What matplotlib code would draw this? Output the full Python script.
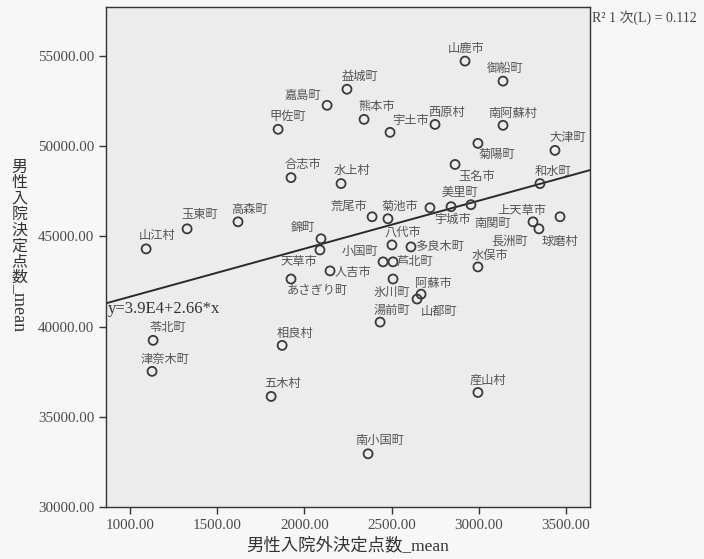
import numpy as np
import matplotlib
matplotlib.use("Agg")
import matplotlib.pyplot as plt

plt.rcParams['font.family'] = ['Liberation Serif', 'Noto Sans CJK JP', 'DejaVu Sans']

# municipality names and mean points (outpatient, inpatient)
names = ['山鹿市', '御船町', '益城町', '嘉島町', '熊本市', '南阿蘇村', '西原村', '甲佐町',
         '宇土市', '菊陽町', '大津町', '玉名市', '合志市', '水上村', '和水町', '南関町',
         '美里町', '宇城市', '荒尾市', '菊池市', '高森町', '玉東町', '上天草市', '長洲町',
         '球磨村', '錦町', '天草市', '山江村', '八代市', '多良木町', '小国町', '芦北町',
         '水俣市', '人吉市', 'あさぎり町', '氷川町', '阿蘇市', '山都町', '湯前町', '苓北町',
         '相良村', '津奈木町', '五木村', '産山村', '南小国町']
outpatient = [2921, 3139, 2244, 2130, 2342, 3139, 2749, 1849,
              2491, 2995, 3437, 2864, 1923, 2210, 3351, 2955,
              2841, 2720, 2388, 2479, 1619, 1327, 3311, 3345,
              3466, 2095, 2089, 1092, 2502, 2611, 2451, 2508,
              2995, 2147, 1923, 2508, 2669, 2646, 2434, 1132,
              1872, 1126, 1809, 2995, 2365]
inpatient = [54720, 53610, 53160, 52270, 51490, 51160, 51210, 50940,
             50770, 50160, 49770, 48990, 48260, 47930, 47930, 46760,
             46650, 46590, 46090, 45980, 45810, 45420, 45810, 45420,
             46090, 44870, 44250, 44310, 44530, 44420, 43590, 43590,
             43310, 43090, 42640, 42640, 41800, 41530, 40250, 39240,
             38960, 37520, 36130, 36350, 32950]

# linear fit shown on the chart
intercept = 3.9e4
slope = 2.66
r_squared = 0.112

x_ticks = [1000, 1500, 2000, 2500, 3000, 3500]
y_ticks = [30000, 35000, 40000, 45000, 50000, 55000]

# label offsets from each point, in pixels (dx, dy up)
label_offsets = [(1, 13), (2, 13), (13, 13), (-24, 10), (13, 13), (10, 12), (12, 12), (10, 13),
                 (20, 12), (19, -11), (13, 13), (22, -12), (12, 13), (11, 13), (13, 12), (22, -19),
                 (9, 14), (23, -12), (-23, 10), (12, 12), (12, 12), (13, 14), (-11, 11), (-29, -12),
                 (0, -25), (-18, 11), (-21, -12), (11, 13), (11, 13), (29, 0), (-23, 10), (22, 1),
                 (12, 11), (23, -2), (26, -11), (-1, -13), (12, 11), (22, -12), (12, 12), (15, 13),
                 (13, 12), (13, 12), (12, 13), (10, 12), (12, 13)]

text_color = '#4a4a4a'

fig = plt.figure(figsize=(7.04, 5.59), dpi=100, facecolor='#f7f7f7')
ax = fig.add_axes([0.1506, 0.093, 0.6875, 0.8945])
ax.set_facecolor('#ececec')

ax.scatter(outpatient, inpatient, s=42, facecolors='none', edgecolors='#3a3a3a',
           linewidths=1.3, zorder=3)

for name, x, y, (dx, dy) in zip(names, outpatient, inpatient, label_offsets):
    ax.annotate(name, (x, y), xytext=(dx, dy), textcoords='offset pixels',
                ha='center', va='center', fontsize=8.8, color='#555555',
                family=['Noto Sans CJK JP', 'DejaVu Sans'])

ax.set_xlim(862, 3638)
ax.set_ylim(30000, 57720)

xs = np.array(ax.get_xlim())
ax.plot(xs, intercept + slope * xs, color='#2a2a2a', lw=1.4, zorder=2)
ax.annotate('y=3.9E4+2.66*x', (xs[0], intercept + slope * xs[0]), xytext=(2, -6),
            textcoords='offset pixels', ha='left', va='center', fontsize=12,
            color='#333333')

ax.set_xticks(x_ticks)
ax.set_xticklabels([f'{v:.2f}' for v in x_ticks])
ax.set_yticks(y_ticks)
ax.set_yticklabels([f'{v:.2f}' for v in y_ticks])
ax.tick_params(direction='out', length=5, width=1, colors='#333333',
               labelcolor=text_color, labelsize=10.8)
for side in ['left', 'bottom', 'top', 'right']:
    ax.spines[side].set_color('#333333')
    ax.spines[side].set_linewidth(1)

ax.set_xlabel('男性入院外決定点数_mean', fontsize=12.5, color='#333333', labelpad=4,
              family=['Liberation Serif', 'Noto Sans CJK JP'])

# vertical japanese y label: upright kanji, rotated latin part
fig.text(0.028, 0.716, '\n'.join('男性入院決定点数'), ha='center', va='top',
         fontsize=11.5, color='#333333', linespacing=0.9,
         family=['Noto Sans CJK JP'])
fig.text(0.028, 0.494, '_mean', ha='center', va='top', rotation=270,
         fontsize=13, color='#333333')

fig.text(0.841, 0.968, f'R² 1 次(L) = {r_squared:.3f}', ha='left', va='center',
         fontsize=10, color='#444444')

fig.savefig('out.png', dpi=100, facecolor=fig.get_facecolor())
